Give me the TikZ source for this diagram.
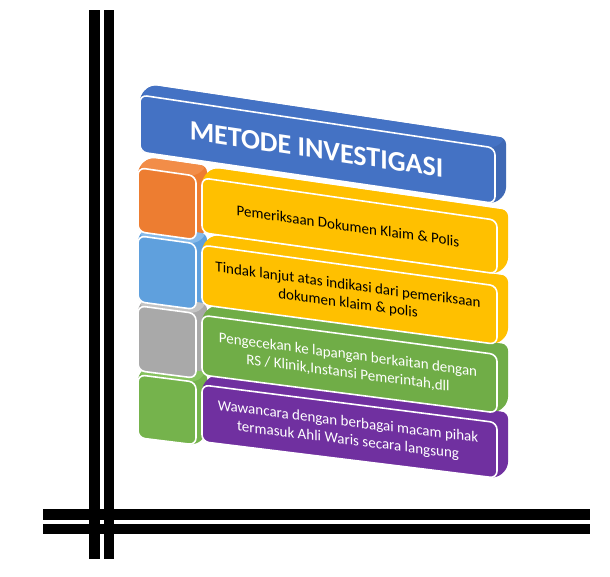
\documentclass[tikz,border=0pt]{standalone}
\usepackage{fontspec}
\setmainfont{Carlito}
\pgfdeclarelayer{bg}
\pgfdeclarelayer{depth}
\pgfsetlayers{bg,depth,main}

\definecolor{hdrblue}{HTML}{4472C4}
\definecolor{hdrside}{HTML}{3F69B5}
\definecolor{sqorange}{HTML}{ED7D31}
\definecolor{sqorangetop}{HTML}{F28D48}
\definecolor{sqblue}{HTML}{5FA0DD}
\definecolor{sqbluetop}{HTML}{86BAEA}
\definecolor{sqgray}{HTML}{A9A9A9}
\definecolor{sqgraytop}{HTML}{C4C4C4}
\definecolor{sqgreen}{HTML}{75B34C}
\definecolor{sqgreentop}{HTML}{86C25E}
\definecolor{boxyellow}{HTML}{FFC000}
\definecolor{boxgreen}{HTML}{70AD47}
\definecolor{boxpurple}{HTML}{7030A0}

\tikzset{
  bar/.style={fill=black},
  frontface/.style={draw=white, line width=1.6pt, rounded corners=7pt},
  depthface/.style={rounded corners=6pt},
  titletext/.style={text=white, font=\bfseries\fontsize{28}{32}\selectfont, inner sep=0pt},
  bodytext/.style={font=\fontsize{15}{18.3}\selectfont, align=center, inner sep=0pt},
}

% A block seen in slight perspective: front face plus receding top and right faces.
% #1 name, #2 u1, #3 v1, #4 u2, #5 v2, #6 front colour, #7 top colour, #8 side colour
\newcommand\solidblock[8]{%
  \coordinate (#1-tl) at ({mx(#2,#3)},{my(#2,#3)});
  \coordinate (#1-tr) at ({mx(#4,#3)},{my(#4,#3)});
  \coordinate (#1-br) at ({mx(#4,#5)},{my(#4,#5)});
  \coordinate (#1-bl) at ({mx(#2,#5)},{my(#2,#5)});
  \begin{pgfonlayer}{depth}
    \fill[#8, depthface] (#1-tl) -- ([shift={(11,-10)}]#1-tl) -- ([shift={(11,-10)}]#1-tr)
      -- ([shift={(11,-10)}]#1-br) -- (#1-br) -- (#1-bl) -- cycle;
    \fill[#7, depthface] (#1-tl) -- ([shift={(11,-10)}]#1-tl) -- ([shift={(11,-10)}]#1-tr)
      -- (#1-tr) -- cycle;
  \end{pgfonlayer}
  \fill[#6, frontface] (#1-tl) -- (#1-tr) -- (#1-br) -- (#1-bl) -- cycle;
}

\begin{document}
\begin{tikzpicture}[x=1pt, y=-1pt,
  declare function={mx(\u,\v)=140+\u; my(\u,\v)=\v+\u*(0.136-0.000081*(\v-270));}]
\useasboundingbox (0,0) rectangle (610,576);
\begin{pgfonlayer}{bg}
  \fill[white] (0,0) rectangle (610,576);
\end{pgfonlayer}

% frame bars
\fill[bar] (89,10) rectangle (100,559);
\fill[bar] (104,10) rectangle (114,559);
\fill[bar] (43,509) rectangle (590,520);
\fill[bar] (43,524) rectangle (590,534);

% header
\solidblock{hdr}{0}{95}{355}{152}{hdrblue}{hdrblue}{hdrside}

% left squares
\solidblock{sq1}{-2}{168}{56}{232}{sqorange}{sqorangetop}{sqorange}
\solidblock{sq2}{-2}{236}{56}{302}{sqblue}{sqbluetop}{sqblue}
\solidblock{sq3}{-2}{306}{56}{371}{sqgray}{sqgraytop}{sqgray}
\solidblock{sq4}{-2}{375}{56}{438}{sqgreen}{sqgreentop}{sqgreen}

% text boxes
\solidblock{bx1}{62}{169}{357}{224}{boxyellow}{boxyellow}{boxyellow}
\solidblock{bx2}{62}{236.5}{357}{296.5}{boxyellow}{boxyellow}{boxyellow}
\solidblock{bx3}{62}{307}{357}{367}{boxgreen}{boxgreen}{boxgreen}
\solidblock{bx4}{62}{377}{357}{434}{boxpurple}{boxpurple}{boxpurple}

% labels
\node[titletext, cm={1,-0.148,0,1,(0,0)}] (title) at ({mx(176.5,123.5)},{my(176.5,123.5)}) {METODE INVESTIGASI};
\node[bodytext, text=black, cm={1,-0.142,0,1,(0,0)}] (t1) at ({mx(208,196.5)},{my(208,196.5)})
  {Pemeriksaan Dokumen Klaim \& Polis};
\node[bodytext, text=black, cm={1,-0.136,0,1,(0,0)}] (t2) at ({mx(208,266.5)},{my(208,266.5)})
  {Tindak lanjut atas indikasi dari pemeriksaan\\dokumen klaim \& polis};
\node[bodytext, text=white, cm={1,-0.131,0,1,(0,0)}] (t3) at ({mx(208,337)},{my(208,337)})
  {Pengecekan ke lapangan berkaitan dengan\\RS / Klinik,Instansi Pemerintah,dll};
\node[bodytext, text=white, cm={1,-0.125,0,1,(0,0)}] (t4) at ({mx(208,405.5)},{my(208,405.5)})
  {Wawancara dengan berbagai macam pihak\\termasuk Ahli Waris secara langsung};
\end{tikzpicture}
\end{document}
